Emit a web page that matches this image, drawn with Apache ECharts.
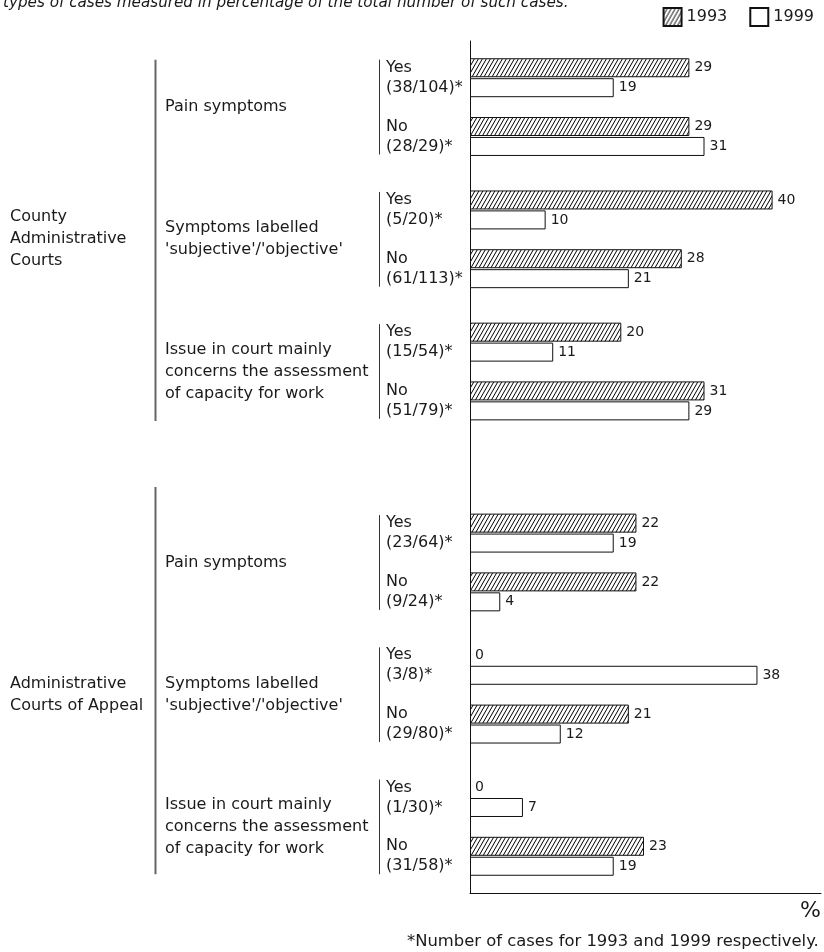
<!DOCTYPE html>
<html>
<head>
<meta charset="utf-8">
<script src="https://cdn.jsdelivr.net/npm/echarts@6/dist/echarts.min.js"></script>
<style>
html,body{margin:0;padding:0;background:#fff;}
#chart{width:824px;height:952px;}
</style>
</head>
<body>
<div id="chart"></div>
<script>
// ---- data ----
const rowLabels = ['Yes\n(38/104)*', 'No\n(28/29)*', 'Yes\n(5/20)*', 'No\n(61/113)*', 'Yes\n(15/54)*', 'No\n(51/79)*',
                   'Yes\n(23/64)*', 'No\n(9/24)*', 'Yes\n(3/8)*', 'No\n(29/80)*', 'Yes\n(1/30)*', 'No\n(31/58)*'];
const values1993 = [29, 29, 40, 28, 20, 31, 22, 22, 0, 21, 0, 23];
const values1999 = [19, 31, 10, 21, 11, 29, 19, 4, 38, 12, 7, 19];
const subgroupNames = ['Pain symptoms', "Symptoms labelled\n'subjective'/'objective'", 'Issue in court mainly\nconcerns the assessment\nof capacity for work'];
const courtNames = ['County\nAdministrative\nCourts', 'Administrative\nCourts of Appeal'];
const seriesNames = ['1993', '1999'];
const titleText = 'types of cases measured in percentage of the total number of such cases.';
const footnoteText = '*Number of cases for 1993 and 1999 respectively.';

// ---- layout (slots on the category axis) ----
const PAD = 2, YN_STEP = 4, SUB_STEP = 9, COURT_STEP = 31;
const N_SLOTS = PAD * 2 + COURT_STEP + 22 + 1;
function rowSlot(r) {
  const c = Math.floor(r / 6), s = Math.floor((r % 6) / 2), yn = r % 2;
  return PAD + c * COURT_STEP + s * SUB_STEP + yn * YN_STEP;
}
const mainCats = new Array(N_SLOTS).fill('');
const subCats = new Array(N_SLOTS).fill('');
const courtCats = new Array(N_SLOTS).fill('');
const d1993 = new Array(N_SLOTS).fill(null);
const d1999 = new Array(N_SLOTS).fill(null);
function item(v) { return v === 0 ? { value: v, itemStyle: { borderWidth: 0 } } : v; }
rowLabels.forEach((l, r) => { const s = rowSlot(r); mainCats[s] = l; d1993[s] = item(values1993[r]); d1999[s] = item(values1999[r]); });
courtNames.forEach((cn, c) => {
  courtCats[PAD + c * COURT_STEP + 11] = cn;
  subgroupNames.forEach((sn, s) => { subCats[PAD + c * COURT_STEP + s * SUB_STEP + 2] = sn; });
});

function hatch() {
  const w = 4, h = 7;
  const c = document.createElement('canvas');
  c.width = w; c.height = h;
  const g = c.getContext('2d');
  g.fillStyle = '#fff'; g.fillRect(0, 0, w, h);
  g.strokeStyle = '#000'; g.lineWidth = 1;
  for (const k of [-1, 0, 1]) { g.beginPath(); g.moveTo(k * w, h); g.lineTo(k * w + w, 0); g.stroke(); }
  return c;
}

const FONT = 'DejaVu Sans';
const TXT = '#1a1a1a';
const chart = echarts.init(document.getElementById('chart'), null, { renderer: 'canvas' });

const catAxisBase = {
  type: 'category', gridIndex: 0, position: 'left', inverse: true, offset: 0,
  axisTick: { show: false }, splitLine: { show: false }
};
const labelStyle = { show: true, position: 'right', distance: 5, fontFamily: FONT, fontSize: 14, color: TXT, formatter: '{c}' };

chart.setOption({
  animation: false,
  textStyle: { fontFamily: FONT },
  legend: {
    orient: 'horizontal', right: 5, top: 2, itemWidth: 18, itemHeight: 18, itemGap: 22, icon: 'rect',
    textStyle: { fontFamily: FONT, fontSize: 16, color: TXT },
    data: seriesNames
  },
  grid: { left: 470, right: 3, top: 41, bottom: 59, containLabel: false },
  xAxis: {
    type: 'value', min: 0, max: 46.4,
    axisLine: { show: true, lineStyle: { color: '#111', width: 1 } },
    axisTick: { show: false }, axisLabel: { show: false }, splitLine: { show: false },
    name: '%', nameLocation: 'end', nameGap: 0,
    nameTextStyle: { fontFamily: FONT, fontSize: 22, color: TXT, align: 'right', verticalAlign: 'top', padding: [7, 0, 0, 0] }
  },
  yAxis: [
    Object.assign({}, catAxisBase, {
      data: mainCats,
      axisLine: { show: true, lineStyle: { color: '#111', width: 1 } },
      axisLabel: { interval: 0, margin: 84, align: 'left', fontFamily: FONT, fontSize: 16, lineHeight: 20, color: TXT }
    }),
    Object.assign({}, catAxisBase, {
      data: subCats, axisLine: { show: false },
      axisLabel: { interval: 0, margin: 305, align: 'left', fontFamily: FONT, fontSize: 16, lineHeight: 22, color: TXT }
    }),
    Object.assign({}, catAxisBase, {
      data: courtCats, axisLine: { show: false },
      axisLabel: { interval: 0, margin: 460, align: 'left', fontFamily: FONT, fontSize: 16, lineHeight: 22, color: TXT }
    })
  ],
  series: [
    {
      name: seriesNames[0], type: 'bar', yAxisIndex: 0, data: d1993, barWidth: 19, barGap: '5%',
      itemStyle: { color: { image: hatch(), repeat: 'repeat' }, borderColor: '#111', borderWidth: 1 },
      label: labelStyle
    },
    {
      name: seriesNames[1], type: 'bar', yAxisIndex: 0, data: d1999, barWidth: 19, barGap: '5%',
      itemStyle: { color: '#fff', borderColor: '#111', borderWidth: 1 },
      label: labelStyle
    }
  ]
});

// brackets and free texts
function yOf(slot) { return chart.convertToPixel({ yAxisIndex: 0 }, slot); }
const graphics = [];
for (let c = 0; c < courtNames.length; c++) {
  const top = yOf(rowSlot(c * 6)) - (c === 0 ? 18 : 46);
  const bot = yOf(rowSlot(c * 6 + 5)) + (c === 0 ? 20 : 18);
  graphics.push({ type: 'line', shape: { x1: 155.5, y1: top, x2: 155.5, y2: bot }, style: { stroke: '#666', lineWidth: 2 } });
  for (let s = 0; s < subgroupNames.length; s++) {
    const r = c * 6 + s * 2;
    graphics.push({ type: 'line', shape: { x1: 379.5, y1: yOf(rowSlot(r)) - 18, x2: 379.5, y2: yOf(rowSlot(r + 1)) + 18 }, style: { stroke: '#333', lineWidth: 1 } });
  }
}
graphics.push({ type: 'text', x: 3, y: 3.5, style: { text: titleText, font: 'italic 15.2px "DejaVu Sans"', fill: TXT, verticalAlign: 'middle' } });
graphics.push({ type: 'text', x: 407, y: 942, style: { text: footnoteText, font: '16.4px "DejaVu Sans"', fill: TXT, verticalAlign: 'middle' } });
chart.setOption({ graphic: graphics });
</script>
</body>
</html>
